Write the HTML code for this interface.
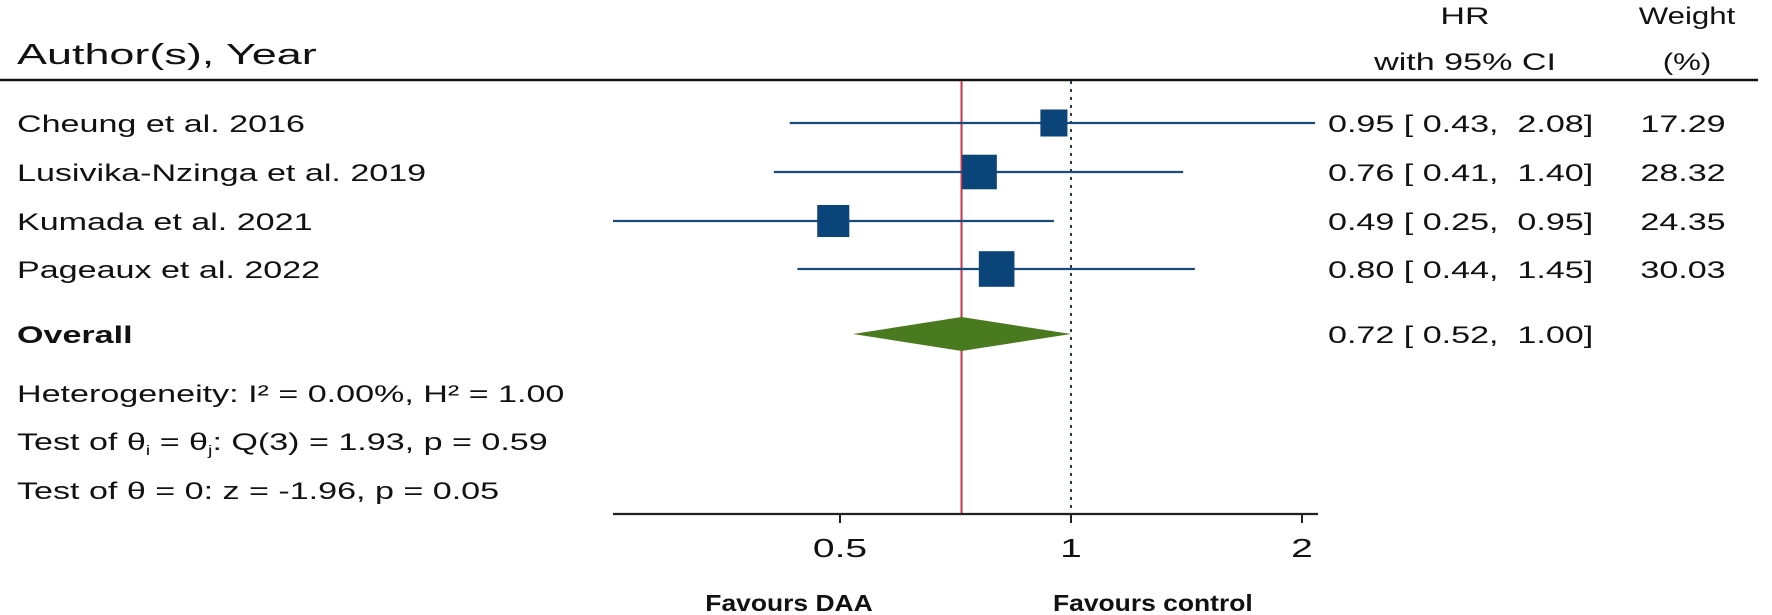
<!DOCTYPE html>
<html><head><meta charset="utf-8"><style>
html,body{margin:0;padding:0;background:#fff;}
svg{display:block;}
text{font-family:"Liberation Sans",Arial,sans-serif;fill:#111;white-space:pre;}
</style></head><body>
<svg id="chart" width="1772" height="615" viewBox="0 0 1772 615" xmlns="http://www.w3.org/2000/svg">
</svg>
<script>
const studies = ["Cheung et al. 2016","Lusivika-Nzinga et al. 2019","Kumada et al. 2021","Pageaux et al. 2022"];
const hr = [0.95,0.76,0.49,0.80];
const lo = [0.43,0.41,0.25,0.44];
const hi = [2.08,1.40,0.95,1.45];
const weights = [17.29,28.32,24.35,30.03];
const overall = [0.72,0.52,1.00];
const tickVals = [0.5,1,2];
const tickLabels = ["0.5","1","2"];

const NS="http://www.w3.org/2000/svg";
const svg=document.getElementById('chart');
const SX=1.42;
const FS=24;
const axMin=613, axMax=1318;
function xS(v){return 1071+231*Math.log2(v);}
function clampX(x){return Math.max(axMin,Math.min(axMax,x));}
const rowY=[123,172,221,269];
const ovY=334;
function el(tag,attrs){const e=document.createElementNS(NS,tag);for(const k in attrs)e.setAttribute(k,attrs[k]);svg.appendChild(e);return e;}
function txt(s,x,y,size,anchor,weight,sx){
  const t=el('text',{transform:`translate(${x},${y}) scale(${sx||SX},1)`,'font-size':size,'text-anchor':anchor||'start','font-weight':weight||'normal'});
  t.textContent=s;return t;}
function fmt(v){return v.toFixed(2);}

let t;
t=txt("Author(s), Year",17,64,29,'start','normal',1.55);


t=txt("HR",1465,24,FS,'middle');


t=txt("with 95% CI",1465,70,FS,'middle');


t=txt("Weight",1687,24,FS,'middle',null,1.3);


t=txt("(%)",1687,70,FS,'middle',null,1.3);


let l=el('line',{x1:0,y1:80,x2:1758,y2:80,stroke:'#111','stroke-width':2.5});



l=el('line',{x1:xS(overall[0]),y1:81,x2:xS(overall[0]),y2:514,stroke:'#c8324a','stroke-width':2});


l=el('line',{x1:xS(1),y1:81,x2:xS(1),y2:514,stroke:'#2a3a4a','stroke-width':2,'stroke-dasharray':'3,5'});



studies.forEach((s,i)=>{
  const y=rowY[i];
  let a=txt(s,17,y+9,FS);
  
  
  let ci=el('line',{x1:clampX(xS(lo[i])),y1:y,x2:clampX(xS(hi[i])),y2:y,stroke:'#1b4b78','stroke-width':2.2});
  
  
  const side=6.5*Math.sqrt(weights[i]);
  let b=el('rect',{x:xS(hr[i])-side/2,y:y-side/2,width:side,height:side,fill:'#0b4478'});
  
  
  let v=txt(`${fmt(hr[i])} [ ${fmt(lo[i])},  ${fmt(hi[i])}]`,1328,y+9,FS);
  
  
  let w=txt(fmt(weights[i]),1683,y+9,FS,'middle');
  
  
});

t=txt("Overall",17,ovY+9,FS,'start','bold');


let d=el('polygon',{points:`${xS(overall[1])},${ovY} ${xS(overall[0])},${ovY-17} ${xS(overall[2])},${ovY} ${xS(overall[0])},${ovY+17}`,fill:'#4a7a1f'});


t=txt(`${fmt(overall[0])} [ ${fmt(overall[1])},  ${fmt(overall[2])}]`,1328,ovY+9,FS);



t=txt("Heterogeneity: I² = 0.00%, H² = 1.00",17,402,FS);


t=el('text',{transform:`translate(17,450) scale(${SX},1)`,'font-size':FS});
t.innerHTML='Test of θ<tspan font-size="14" dy="5">i</tspan><tspan dy="-5"> = θ</tspan><tspan font-size="14" dy="5">j</tspan><tspan dy="-5">: Q(3) = 1.93, p = 0.59</tspan>';


t=txt("Test of θ = 0: z = -1.96, p = 0.05",17,499,FS);



l=el('line',{x1:axMin,y1:514,x2:axMax,y2:514,stroke:'#222','stroke-width':2.2});


tickVals.forEach((v,i)=>{
  let tk=el('line',{x1:xS(v),y1:514,x2:xS(v),y2:523,stroke:'#222','stroke-width':2});
  
  
  let tl=txt(tickLabels[i],xS(v),557,26,'middle','normal',1.5);
  
  
});
t=el('text',{transform:`translate(789,611) scale(1.15,1)`,'font-size':23,'font-weight':'bold','text-anchor':'middle'});
t.textContent='Favours DAA';


t=el('text',{transform:`translate(1053,611) scale(1.15,1)`,'font-size':23,'font-weight':'bold'});
t.textContent='Favours control';


</script>
</body></html>
